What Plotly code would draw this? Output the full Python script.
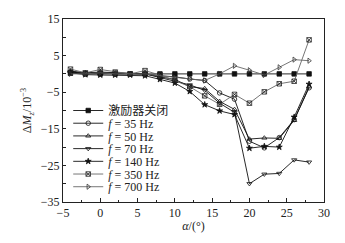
import plotly.graph_objects as go

alpha = [-4, -2, 0, 2, 4, 6, 8, 10, 12, 14, 16, 18, 20, 22, 24, 26, 28]

off = [0.2, 0, 0, 0, 0, 0, 0, 0, 0, 0, 0, 0, 0, 0, 0, 0, 0]
f35 = [0.5, 0.2, 0.3, 0.2, 0, 0, -0.5, -0.8, -1.4, -1.8, -5.2, -6.9, -18.4, -20.2, -17.4, -12.5, -3.8]
f50 = [0.8, 0.3, 0.5, 0.3, 0, 0, -0.8, -1.5, -3.5, -4.0, -7.5, -9.7, -17.8, -17.5, -17.6, -12.7, -3.5]
f70 = [0.6, 0, 0.3, 0, 0, 0, -1.0, -2.0, -3.0, -4.5, -8.0, -10.5, -30.0, -27.4, -27.2, -23.5, -24.1]
f140 = [0.3, -0.2, -0.3, -0.3, -0.3, -0.5, -1.5, -2.5, -4.8, -8.4, -10.1, -11.1, -20.3, -19.8, -20.0, -11.8, -2.8]
f350 = [1.3, 0.3, 1.2, 0.5, 0, 0.9, -0.3, -1.8, -3.5, -6.0, -8.3, -5.6, -8.0, -4.9, -2.7, -2.0, 9.3]
f700 = [0, 0, 0.3, 0, 0, 0, -0.5, -1.0, -1.3, -1.8, 0, 2.2, 1.0, -0.3, 1.8, 3.9, 3.6]

names = ["激励器关闭", "<i>f</i> = 35 Hz", "<i>f</i> = 50 Hz", "<i>f</i> = 70 Hz",
         "<i>f</i> = 140 Hz", "<i>f</i> = 350 Hz", "<i>f</i> = 700 Hz"]
series = [off, f35, f50, f70, f140, f350, f700]
symbols = ["square", "circle-open", "triangle-up-open", "triangle-down-open",
           "star", "square-x-open", "triangle-right-open"]
line_colors = ["#111", "#111", "#111", "#111", "#111", "#666", "#666"]
marker_colors = ["#111", "#111", "#111", "#111", "#111", "#222", "#333"]

y_ticks = [-35, -25, -15, -5, 5, 15]
y_ticktext = ["−35", "−25", "−15", "−5", "5", "15"]
x_ticks = [-5, 0, 5, 10, 15, 20, 25, 30]
x_ticktext = ["−5", "0", "5", "10", "15", "20", "25", "30"]

FONT = "Liberation Serif, Times New Roman, Noto Sans CJK SC, serif"

fig = go.Figure()
legend_ids = ["legend"] + ["legend%d" % (i + 2) for i in range(len(names) - 1)]
for nm, ys, sym, lc, mc, lg in zip(names, series, symbols, line_colors, marker_colors, legend_ids):
    fig.add_trace(go.Scatter(
        x=alpha, y=ys, name=nm, mode="lines+markers", legend=lg,
        line=dict(color=lc, width=0.9),
        marker=dict(symbol=sym, size=4.5, color=mc, line=dict(color=mc, width=0.8)),
    ))

# plot area: top 12 px, bottom 204 px (192 px tall); legend rows every ~13.3 px from 108 px
legend_layout = {}
for i, lg in enumerate(legend_ids):
    ypx = 108 + 13.33 * i
    legend_layout[lg] = dict(
        x=0.02, y=(204 - ypx) / 192, xanchor="left", yanchor="middle",
        bgcolor="rgba(0,0,0,0)", font=dict(size=12, family=FONT, color="#222"),
        itemwidth=30, tracegroupgap=0, borderwidth=0,
    )

fig.update_layout(
    width=345, height=243,
    margin=dict(l=63, r=21, t=12, b=39),
    paper_bgcolor="white", plot_bgcolor="white",
    font=dict(family=FONT, size=12, color="#222"),
    showlegend=True,
    xaxis=dict(range=[-5, 30], tickvals=x_ticks, ticktext=x_ticktext,
               ticks="inside", ticklen=4, tickcolor="#222", showgrid=False,
               zeroline=False, showline=True, linecolor="#222", linewidth=1, mirror=True,
               minor=dict(dtick=2.5, ticks="inside", ticklen=2, tickcolor="#222"),
               title=dict(text="<i>α</i>/(°)", font=dict(size=12), standoff=2)),
    yaxis=dict(range=[-35, 15], tickvals=y_ticks, ticktext=y_ticktext,
               ticks="inside", ticklen=3, tickcolor="#222", showgrid=False,
               zeroline=False, showline=True, linecolor="#222", linewidth=1, mirror=True,
               minor=dict(tickvals=[-30, -20, -10, 0, 10], ticks="inside", ticklen=3, tickcolor="#222"),
               title=dict(text="Δ<i>M</i><sub><i>z</i></sub>/10<sup>−3</sup>", font=dict(size=12), standoff=6)),
    **legend_layout,
)

fig.write_html("out.html", config={"displayModeBar": False},
               post_script="document.body.style.margin='0';")
